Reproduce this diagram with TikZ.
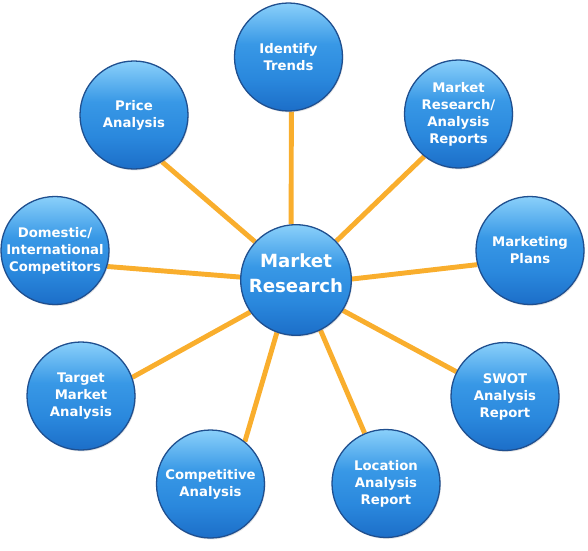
\documentclass[tikz,border=0pt]{standalone}
\usepackage{fontspec}
\setmainfont{DejaVu Sans}
\usetikzlibrary{shadows}
\definecolor{lineor}{HTML}{F9AE2D}
\definecolor{rim}{HTML}{1F4F8F}
\definecolor{btop}{HTML}{8AD0FA}
\definecolor{bmid}{HTML}{3898E6}
\definecolor{bmidb}{HTML}{2A88DD}
\definecolor{bbot}{HTML}{1C6EC8}
\pgfdeclareverticalshading{bubble}{100bp}{color(0bp)=(bbot); color(25bp)=(bbot); color(40bp)=(bmidb); color(56bp)=(bmid); color(75bp)=(btop); color(100bp)=(btop)}
\pgfdeclarelayer{bg}
\pgfsetlayers{bg,main}
\begin{document}
\begin{tikzpicture}[x=0.03cm,y=-0.03cm,
  bubblenode/.style={circle, shading=bubble, draw=rim, line width=1.1pt,
    minimum size=3.24cm, inner sep=0pt, align=center, text=white,
    font=\bfseries\fontsize{11.3}{14.5}\selectfont,
    drop shadow={opacity=0.22,shadow xshift=0.8pt,shadow yshift=-1.2pt}},
  hubnode/.style={bubblenode, minimum size=3.32cm, text depth=12pt,
    font=\bfseries\fontsize{15.5}{21}\selectfont},
  link/.style={draw=lineor, line width=4.2pt}]
\useasboundingbox (0,0) rectangle (588,550);
\node[hubnode] (mr) at (296,280) {Market\\Research};
\node[bubblenode] (it) at (288.5,57) {Identify\\Trends};
\node[bubblenode] (mrar) at (458.5,114) {Market\\Research/\\Analysis\\Reports};
\node[bubblenode] (mp) at (530,250.5) {Marketing\\Plans};
\node[bubblenode] (swot) at (505,396.5) {SWOT\\Analysis\\Report};
\node[bubblenode] (loc) at (386,483.5) {Location\\Analysis\\Report};
\node[bubblenode] (comp) at (210.5,484) {Competitive\\Analysis};
\node[bubblenode] (tma) at (81,396) {Target\\Market\\Analysis};
\node[bubblenode] (dom) at (55,250.5) {Domestic/\\International\\Competitors};
\node[bubblenode] (pa) at (134,115) {Price\\Analysis};
\begin{pgfonlayer}{bg}
\draw[link] (it.-87) -- (mr.95);
\draw[link] (mrar.-129) -- (mr.44);
\draw[link] (mp.195) -- (mr.1);
\draw[link] (swot.153) -- (mr.-33);
\draw[link] (loc.113) -- (mr.-64);
\draw[link] (comp.51) -- (mr.-110);
\draw[link] (tma.20) -- (mr.215);
\draw[link] (dom.-17) -- (mr.177);
\draw[link] (pa.-59) -- (mr.137);
\end{pgfonlayer}
\end{tikzpicture}
\end{document}
